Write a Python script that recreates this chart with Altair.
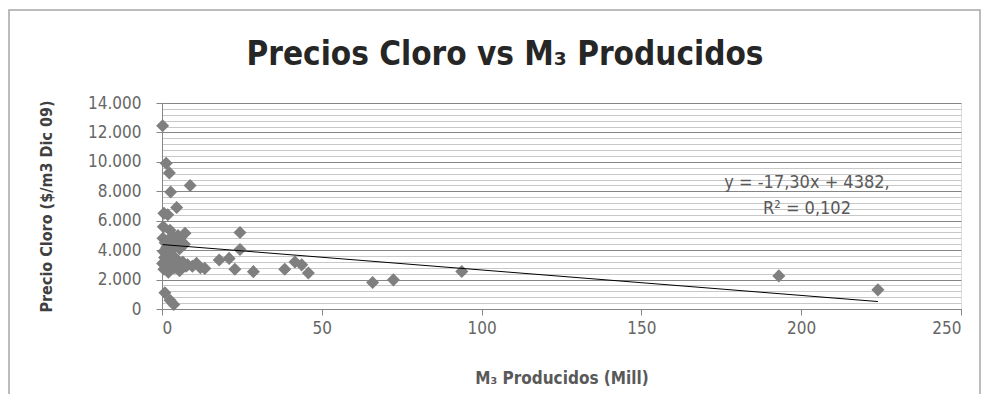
import altair as alt
import pandas as pd

# ---- data ----
m3_producidos = [
    0.2, 1.3, 2.3, 8.8, 2.7, 4.6, 0.6, 1.8,
    0.4, 2.5, 7.2, 24.4, 24.4, 17.9, 21.0, 22.8, 28.6, 13.4, 10.8,
    0.9, 2.5, 3.7,
    38.4, 41.6, 43.7, 45.8, 65.9, 72.4, 93.8,
    193.0, 224.0,
    0.3, 1.0, 2.0, 3.5, 5.0, 6.0, 4.0, 1.5, 0.5, 2.5, 3.0, 5.5, 7.0,
    0.8, 1.8, 3.2, 4.5, 6.5, 8.0, 0.2, 1.2, 2.8, 4.0, 5.5, 2.0, 0.6,
    7.5, 9.5, 12.0, 3.8, 1.5,
]
precio_cloro = [
    12450, 9900, 9250, 8400, 7950, 6900, 6500, 6400,
    5590, 5350, 5150, 5200, 4050, 3330, 3440, 2700, 2540, 2760, 3100,
    1100, 600, 300,
    2700, 3200, 3000, 2450, 1800, 1980, 2550,
    2250, 1300,
    4800, 4500, 4700, 4900, 5000, 4600, 4300, 4200, 3900, 3800, 4000, 4100, 4400,
    3500, 3300, 3600, 3400, 3200, 3000, 3100, 2900, 2700, 2800, 2600, 2500, 2700,
    2900, 2900, 2800, 3100, 3700,
]
trend_x = [0.2, 224.0]
trend_y = [4379, 507]
eq_lines = ["y = -17,30x + 4382,", "R² = 0,102"]
chart_title = "Precios Cloro vs M₃  Producidos"

x_ticks = [0, 50, 100, 150, 200, 250]
y_major = [0, 2000, 4000, 6000, 8000, 10000, 12000, 14000]
y_minor = [v for v in range(0, 14001, 400) if v % 2000 != 0]

pts = pd.DataFrame({"x": m3_producidos, "y": precio_cloro})
trend = pd.DataFrame({"x": trend_x, "y": trend_y})

FONT = "Liberation Sans Narrow, DejaVu Sans Condensed, Liberation Sans, sans-serif"
GRAY_TXT = "#595959"

xscale = alt.Scale(domain=[0, 250], nice=False, zero=True)
yscale = alt.Scale(domain=[0, 14000], nice=False)

x_axis = alt.Axis(
    values=x_ticks, title="M₃ Producidos (Mill)", grid=False,
    domainColor="#868686", tickColor="#868686", tickSize=6,
    labelFont=FONT, labelFontSize=17, labelColor="#666666", labelPadding=5,
    titleFont=FONT, titleFontSize=17, titleFontWeight="bold", titleColor=GRAY_TXT,
    titlePadding=34,
)
y_axis = alt.Axis(
    values=y_major, title="Precio Cloro ($/m3 Dic 09)", format=",d",
    labelExpr="replace(datum.label, ',', '.')",
    grid=True, gridColor="#858585", gridWidth=1,
    domainColor="#868686", tickColor="#868686", tickSize=6,
    labelFont=FONT, labelFontSize=17, labelColor="#666666", labelPadding=15,
    titleFont=FONT, titleFontSize=16, titleFontWeight="bold", titleColor="#404040",
    titlePadding=33,
)
minor_axis = alt.Axis(
    values=y_minor, orient="right", title=None, labels=False, ticks=False,
    domain=False, grid=True, gridColor="#c8c8c8", gridWidth=1,
)

minor = alt.Chart(pts).mark_point(opacity=0).encode(
    x=alt.X("x:Q", scale=xscale, axis=x_axis),
    y=alt.Y("y:Q", scale=yscale, axis=minor_axis),
)

points = alt.Chart(pts).mark_point(
    shape="diamond", filled=True, size=170, color="#7f7f7f", opacity=1
).encode(
    x=alt.X("x:Q", scale=xscale, axis=x_axis),
    y=alt.Y("y:Q", scale=yscale, axis=y_axis),
)

line = alt.Chart(trend).mark_line(color="#000000", strokeWidth=1).encode(
    x=alt.X("x:Q", scale=xscale, axis=x_axis),
    y=alt.Y("y:Q", scale=yscale, axis=None),
)

def text_layer(txt, x, y, size, weight="normal", color=GRAY_TXT):
    return alt.Chart(pd.DataFrame({"t": [txt]})).mark_text(
        font=FONT, fontSize=size, fontWeight=weight, color=color,
        align="center", baseline="middle",
    ).encode(text="t:N", x=alt.value(x), y=alt.value(y))

eq1 = text_layer(eq_lines[0], 645, 80, 18)
eq2 = text_layer(eq_lines[1], 645, 106, 18)
title = text_layer(chart_title, 343, -48, 33, weight="bold", color="#262626")

frame = alt.Chart(pd.DataFrame({"a": [0]})).mark_rect(
    fill=None, stroke="#a6a6a6", strokeWidth=1.5
).encode(
    x=alt.value(-153), x2=alt.value(818), y=alt.value(-93), y2=alt.value(330)
)

chart = alt.layer(frame, minor, points, line, eq1, eq2, title).resolve_axis(
    y="independent"
).properties(
    width=799, height=206,
    autosize=alt.AutoSizeParams(type="none"),
    padding={"left": 154, "top": 95, "right": 21, "bottom": 85},
).configure_view(stroke=None).configure(background="white")

chart.save("out.html", embed_options={"renderer": "svg", "actions": False})
